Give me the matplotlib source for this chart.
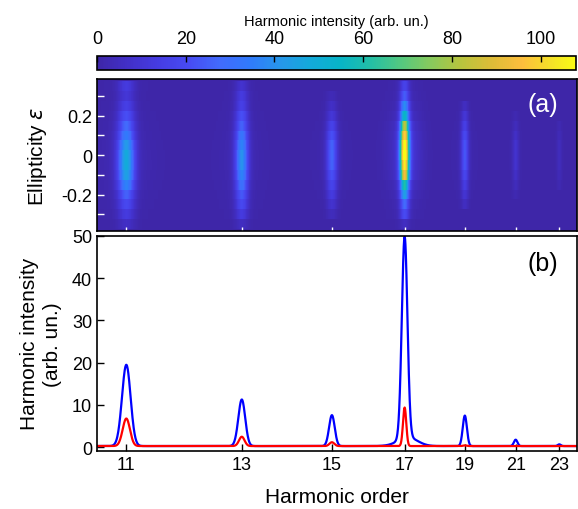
import numpy as np
import matplotlib
matplotlib.use("Agg")
import matplotlib.pyplot as plt
from matplotlib.colors import LinearSegmentedColormap
from matplotlib.ticker import NullLocator

plt.rcParams['font.family'] = ['Liberation Sans', 'DejaVu Sans']
plt.rcParams['mathtext.fontset'] = 'dejavusans'

# ---- data ----
harmonics = [11, 13, 15, 17, 19, 21, 23]

# panel (b): peak heights above baseline and widths (in harmonic order)
blue_peaks = [19.2, 11.0, 7.3, 47.6, 7.2, 1.5, 0.4]
red_peaks = [6.5, 2.2, 0.9, 9.1, 0.15, 0.0, 0.0]
blue_widths = [0.065, 0.068, 0.07, 0.085, 0.075, 0.075, 0.075]
red_widths = [0.055, 0.055, 0.06, 0.05, 0.06, 0.06, 0.06]
baseline = 0.3
pedestal_17 = 2.0   # broad foot under H17 in the blue curve

# panel (a): intensity at each harmonic vs ellipticity (-0.4 ... 0.4)
eps = np.round(np.arange(-0.4, 0.401, 0.05), 2)
map_h11 = [0, 6, 12, 18, 24, 34, 42, 46, 45, 40, 32, 26, 20, 14, 10, 12, 0]
map_h13 = [0, 5, 12, 18, 22, 28, 34, 38, 38, 34, 30, 24, 20, 14, 12, 8, 0]
map_h15 = [0, 0, 4, 8, 12, 16, 20, 24, 25, 24, 20, 15, 10, 6, 3, 0, 0]
map_h17 = [0, 5, 18, 25, 40, 55, 85, 95, 105, 100, 90, 75, 50, 35, 22, 15, 5]
map_h19 = [0, 0, 0, 5, 9, 13, 17, 21, 22, 21, 18, 14, 10, 5, 0, 0, 0]
map_h21 = [0, 0, 0, 0, 2, 4, 6, 8, 8, 8, 6, 4, 2, 0, 0, 0, 0]
map_h23 = [0, 0, 0, 0, 0, 2, 3, 4, 4, 4, 3, 2, 0, 0, 0, 0, 0]
map_widths = [0.09, 0.09, 0.095, 0.1, 0.095, 0.095, 0.095]

cbar_ticks = [0, 20, 40, 60, 80, 100]
yticks_b = [0, 10, 20, 30, 40, 50]

# parula-like colormap
parula_pts = [
    (0.000, (0.2422, 0.1504, 0.6603)),
    (0.063, (0.2586, 0.1865, 0.7836)),
    (0.127, (0.2722, 0.2364, 0.8878)),
    (0.190, (0.2795, 0.2952, 0.9519)),
    (0.254, (0.2586, 0.4181, 0.9883)),
    (0.317, (0.1904, 0.4768, 0.9854)),
    (0.381, (0.1540, 0.5902, 0.9218)),
    (0.444, (0.0770, 0.6640, 0.8570)),
    (0.508, (0.0290, 0.7080, 0.7820)),
    (0.571, (0.1360, 0.7480, 0.6510)),
    (0.635, (0.3280, 0.7860, 0.5010)),
    (0.698, (0.5340, 0.7930, 0.3630)),
    (0.762, (0.7230, 0.7680, 0.2400)),
    (0.825, (0.8700, 0.7370, 0.2180)),
    (0.889, (0.9910, 0.7450, 0.2390)),
    (0.952, (0.9610, 0.8890, 0.1540)),
    (1.000, (0.9769, 0.9839, 0.0805)),
]
parula = LinearSegmentedColormap.from_list('parula', parula_pts)


def fwd(x):
    x = np.asarray(x, float)
    return -np.power(np.clip(x, 1e-3, None), -0.6)


def inv(u):
    u = np.asarray(u, float)
    return np.power(np.clip(-u, 1e-6, None), -1 / 0.6)


q = np.linspace(10.4, 24.1, 3000)


def line(h0, w):
    return np.exp(-0.5 * ((q - h0) / w) ** 2)


foot = np.exp(-0.5 * ((q - 17.1) / 0.3) ** 2)

blue = np.full_like(q, baseline) + pedestal_17 * foot
red = np.full_like(q, baseline)
for h0, a, w in zip(harmonics, blue_peaks, blue_widths):
    blue += a * line(h0, w)
for h0, a, w in zip(harmonics, red_peaks, red_widths):
    red += a * line(h0, w)

map_cols = [map_h11, map_h13, map_h15, map_h17, map_h19, map_h21, map_h23]
Z = np.zeros((len(eps), len(q)))
for h0, col, w in zip(harmonics, map_cols, map_widths):
    Z += np.array(col, float)[:, None] * line(h0, w)[None, :]
    # faint glow around each column
    Z += 0.06 * np.array(col, float)[:, None] * line(h0, 3.5 * w)[None, :]
Z += 0.05 * np.array(map_h17, float)[:, None] * foot[None, :]

# ---- figure ----
W, H = 578, 510
fig = plt.figure(figsize=(W / 100, H / 100), dpi=100)


def box(x0, y0, x1, y1):
    return [x0 / W, 1 - y1 / H, (x1 - x0) / W, (y1 - y0) / H]


cax = fig.add_axes(box(97, 56.7, 576, 71))
ax1 = fig.add_axes(box(97, 80, 577, 232.3))
ax2 = fig.add_axes(box(97, 236.7, 577, 451.7))

for ax in (ax1, ax2):
    ax.set_xscale('function', functions=(fwd, inv))
    ax.set_xlim(10.57, 23.9)
    ax.set_xticks(harmonics)
    ax.xaxis.set_minor_locator(NullLocator())
    for s in ax.spines.values():
        s.set_linewidth(1.2)

mesh = ax1.pcolormesh(q, eps, Z, cmap=parula, vmin=0, vmax=108,
                      shading='nearest', rasterized=True)
ax1.set_ylim(-0.387, 0.387)
ax1.set_yticks([-0.2, 0, 0.2])
ax1.set_yticklabels(['-0.2', '0', '0.2'])
ax1.set_yticks([-0.3, -0.1, 0.1, 0.3], minor=True)
ax1.set_xticklabels([])
ax1.tick_params(axis='y', which='both', direction='in', color='white',
                length=5, width=1, labelsize=13)
ax1.tick_params(axis='x', direction='in', color='white', length=3, width=1)
ax1.set_ylabel('Ellipticity $\\epsilon$', fontsize=15)
ax1.yaxis.set_label_coords(-0.1, 0.5)
ax1.text(0.928, 0.839, '(a)', color='white', fontsize=18,
         ha='center', va='center', transform=ax1.transAxes)

ax2.plot(q, blue, color='blue', lw=1.6)
ax2.plot(q, red, color='red', lw=1.6)
ax2.set_ylim(-0.8, 50)
ax2.set_yticks(yticks_b)
ax2.set_xticklabels([str(h) for h in harmonics])
ax2.tick_params(direction='in', length=5, width=1, labelsize=13)
ax2.set_ylabel('Harmonic intensity\n(arb. un.)', fontsize=15,
               linespacing=1.3)
ax2.yaxis.set_label_coords(-0.072, 0.5)
ax2.set_xlabel('Harmonic order', fontsize=15)
ax2.xaxis.set_label_coords(0.5, -0.17)
ax2.text(0.928, 0.871, '(b)', color='black', fontsize=18,
         ha='center', va='center', transform=ax2.transAxes)

cb = fig.colorbar(mesh, cax=cax, orientation='horizontal')
cb.set_ticks(cbar_ticks)
cax.xaxis.set_ticks_position('top')
cax.xaxis.set_label_position('top')
cax.tick_params(direction='in', length=4, width=1, labelsize=13, pad=6)
cb.set_label('Harmonic intensity (arb. un.)', fontsize=10.5, labelpad=4)
cb.outline.set_linewidth(1.2)

fig.savefig('out.png', dpi=100)
